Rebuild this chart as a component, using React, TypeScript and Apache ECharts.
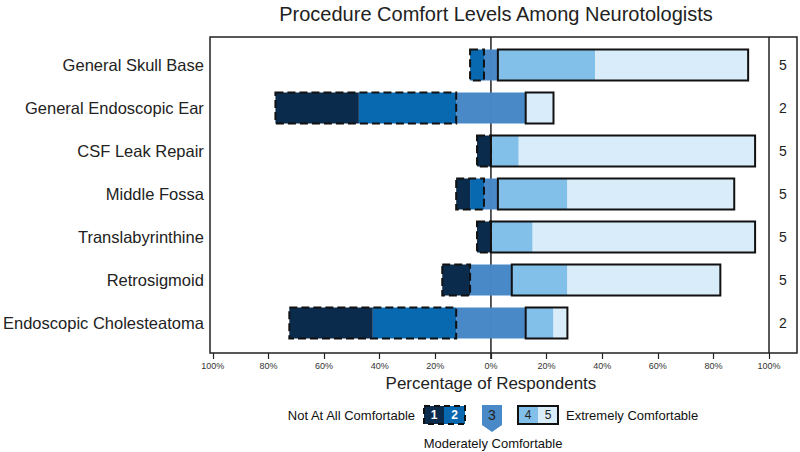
import React, { useEffect, useRef } from "react";
import * as echarts from "echarts";

const categories = [
  "General Skull Base",
  "General Endoscopic Ear",
  "CSF Leak Repair",
  "Middle Fossa",
  "Translabyrinthine",
  "Retrosigmoid",
  "Endoscopic Cholesteatoma",
];
// percentage of respondents per comfort level (1 = not at all, 5 = extremely)
const level1 = [0, 30, 5, 5, 5, 10, 30];
const level2 = [5, 35, 0, 5, 0, 0, 30];
const level3 = [5, 25, 0, 5, 0, 15, 25];
const level4 = [35, 0, 10, 25, 15, 20, 10];
const level5 = [55, 10, 85, 60, 80, 55, 5];
const medians = ["5", "2", "5", "5", "5", "5", "2"];
const xTicks = [-100, 100, 20];

const COLORS = ["#0b2b4c", "#0868b0", "#4a89c8", "#82bfe9", "#d8ecf9"];
const FONT = "Liberation Sans, Arial, sans-serif";
const BAR_H = 31;

const GRID = { left: 212, right: 31, top: 43.5, bottom: 107.5 };
const FRAME = { x: 210, y: 37, w: 587, h: 316 };

export default function App() {
  const ref = useRef<HTMLDivElement>(null);
  useEffect(() => {
    if (!ref.current) return;
    const chart = echarts.init(ref.current, null, { renderer: "svg" });
    const half = (v: number) => v / 2;
    const outlineData = categories.map((_, i) => [
      i,
      -half(level3[i]),
      -(half(level3[i]) + level2[i] + level1[i]),
      half(level3[i]),
      half(level3[i]) + level4[i] + level5[i],
    ]);
    const barBase = {
      type: "bar" as const,
      stack: "total",
      barWidth: BAR_H,
      yAxisIndex: 0,
      z: 4,
    };
    chart.setOption({
      animation: false,
      textStyle: { fontFamily: FONT },
      title: {
        text: "Procedure Comfort Levels Among Neurotologists",
        left: 491,
        top: -1,
        textAlign: "center",
        textStyle: { fontSize: 20, fontWeight: "normal", color: "#222", fontFamily: FONT },
      },
      grid: GRID,
      xAxis: {
        type: "value",
        min: xTicks[0],
        max: xTicks[1],
        interval: xTicks[2],
        offset: 8.5,
        axisLine: { show: false },
        axisTick: { show: true, length: 6, lineStyle: { color: "#222", width: 1.2 } },
        splitLine: { show: false },
        axisLabel: {
          fontSize: 9,
          color: "#333",
          margin: 8,
          formatter: (v: number) => Math.abs(v) + "%",
        },
        name: "Percentage of Respondents",
        nameLocation: "middle",
        nameGap: 21,
        nameTextStyle: { fontSize: 17, color: "#222", verticalAlign: "top" },
      },
      yAxis: [
        {
          type: "category",
          data: categories,
          inverse: true,
          axisLine: { show: false },
          axisTick: { show: false },
          axisLabel: { fontSize: 16.5, color: "#222", margin: 9 },
        },
        {
          type: "category",
          data: medians,
          inverse: true,
          position: "right",
          axisLine: { show: false },
          axisTick: { show: false },
          axisLabel: { fontSize: 14, color: "#222", margin: 10 },
        },
      ],
      series: [
        { ...barBase, name: "3-", data: level3.map((v) => -half(v)), itemStyle: { color: COLORS[2] } },
        { ...barBase, name: "2", data: level2.map((v) => -v), itemStyle: { color: COLORS[1] } },
        { ...barBase, name: "1", data: level1.map((v) => -v), itemStyle: { color: COLORS[0] } },
        { ...barBase, name: "3+", data: level3.map((v) => half(v)), itemStyle: { color: COLORS[2] } },
        { ...barBase, name: "4", data: level4, itemStyle: { color: COLORS[3] } },
        { ...barBase, name: "5", data: level5, itemStyle: { color: COLORS[4] } },
        {
          type: "custom",
          name: "outline",
          z: 6,
          yAxisIndex: 0,
          data: outlineData,
          encode: { x: [1, 2, 3, 4], y: 0 },
          renderItem: (params: any, api: any) => {
            const cat = api.value(0);
            const children: any[] = [];
            const a = api.coord([api.value(1), cat]);
            const b = api.coord([api.value(2), cat]);
            const c = api.coord([api.value(3), cat]);
            const d = api.coord([api.value(4), cat]);
            const y = a[1] - BAR_H / 2;
            if (Math.abs(a[0] - b[0]) > 0.5) {
              children.push({
                type: "rect",
                shape: { x: b[0], y, width: a[0] - b[0], height: BAR_H },
                style: { fill: "none", stroke: "#111", lineWidth: 2, lineDash: [8, 4] },
              });
            }
            if (Math.abs(d[0] - c[0]) > 0.5) {
              children.push({
                type: "rect",
                shape: { x: c[0], y, width: d[0] - c[0], height: BAR_H },
                style: { fill: "none", stroke: "#111", lineWidth: 2 },
              });
            }
            return { type: "group", children };
          },
        },
      ],
    });

    const zeroX = chart.convertToPixel({ xAxisIndex: 0 }, 0) as number;
    const rightX = chart.convertToPixel({ xAxisIndex: 0 }, xTicks[1]) as number;
    const legY = 406;
    const legH = 18;
    chart.setOption({
      graphic: [
        {
          type: "rect",
          shape: { x: FRAME.x, y: FRAME.y, width: FRAME.w, height: FRAME.h },
          style: { fill: "none", stroke: "#222", lineWidth: 1.5 },
          z: 10,
        },
        {
          type: "line",
          shape: { x1: rightX, y1: FRAME.y, x2: rightX, y2: FRAME.y + FRAME.h },
          style: { stroke: "#222", lineWidth: 1.5 },
          z: 10,
        },
        {
          type: "line",
          shape: { x1: zeroX, y1: FRAME.y, x2: zeroX, y2: FRAME.y + FRAME.h + 6 },
          style: { stroke: "#222", lineWidth: 1.5 },
          z: 0,
        },
        // legend
        {
          type: "text",
          x: 415,
          y: legY + legH / 2,
          style: {
            text: "Not At All Comfortable",
            align: "right",
            verticalAlign: "middle",
            fontSize: 13,
            fill: "#111",
            fontFamily: FONT,
          },
        },
        { type: "rect", shape: { x: 424, y: legY, width: 20, height: legH }, style: { fill: COLORS[0] } },
        { type: "rect", shape: { x: 444, y: legY, width: 21, height: legH }, style: { fill: COLORS[1] } },
        {
          type: "rect",
          shape: { x: 424, y: legY, width: 41, height: legH },
          style: { fill: "none", stroke: "#111", lineWidth: 2, lineDash: [6, 4] },
        },
        {
          type: "text",
          x: 434,
          y: legY + legH / 2,
          style: { text: "1", align: "center", verticalAlign: "middle", fontSize: 12, fontWeight: "bold", fill: "#fff", fontFamily: FONT },
        },
        {
          type: "text",
          x: 454.5,
          y: legY + legH / 2,
          style: { text: "2", align: "center", verticalAlign: "middle", fontSize: 12, fontWeight: "bold", fill: "#fff", fontFamily: FONT },
        },
        {
          type: "polygon",
          shape: { points: [[482, 405], [502, 405], [502, 425], [492, 432], [482, 425]] },
          style: { fill: COLORS[2] },
        },
        {
          type: "text",
          x: 492,
          y: 415,
          style: { text: "3", align: "center", verticalAlign: "middle", fontSize: 14, fill: "#222", fontFamily: FONT },
        },
        { type: "rect", shape: { x: 518, y: legY, width: 20, height: legH }, style: { fill: COLORS[3] } },
        { type: "rect", shape: { x: 538, y: legY, width: 20, height: legH }, style: { fill: COLORS[4] } },
        {
          type: "rect",
          shape: { x: 518, y: legY, width: 40, height: legH },
          style: { fill: "none", stroke: "#111", lineWidth: 2 },
        },
        {
          type: "text",
          x: 528,
          y: legY + legH / 2,
          style: { text: "4", align: "center", verticalAlign: "middle", fontSize: 12, fill: "#222", fontFamily: FONT },
        },
        {
          type: "text",
          x: 548,
          y: legY + legH / 2,
          style: { text: "5", align: "center", verticalAlign: "middle", fontSize: 12, fill: "#222", fontFamily: FONT },
        },
        {
          type: "text",
          x: 566,
          y: legY + legH / 2,
          style: {
            text: "Extremely Comfortable",
            align: "left",
            verticalAlign: "middle",
            fontSize: 13,
            fill: "#111",
            fontFamily: FONT,
          },
        },
        {
          type: "text",
          x: 493,
          y: 443,
          style: {
            text: "Moderately Comfortable",
            align: "center",
            verticalAlign: "middle",
            fontSize: 13,
            fill: "#111",
            fontFamily: FONT,
          },
        },
      ],
    });
    return () => chart.dispose();
  }, []);
  return <div ref={ref} style={{ width: 800, height: 452, position: "absolute", left: 0, top: 0 }} />;
}
